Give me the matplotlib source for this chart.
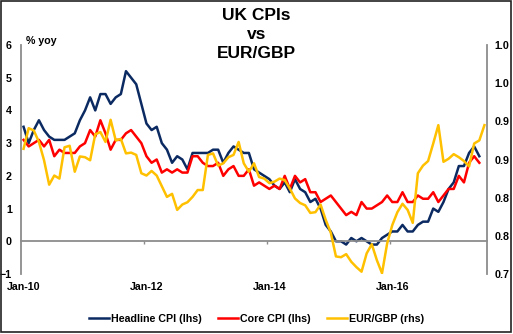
import matplotlib.pyplot as plt
import matplotlib.patches as mpatches
import matplotlib.lines as mlines
import numpy as np

plt.rcParams['font.family'] = ['Liberation Sans', 'DejaVu Sans']
plt.rcParams['font.weight'] = 'bold'

# monthly data, Jan-10 onwards
headline = [3.5, 3.0, 3.4, 3.7, 3.4, 3.2, 3.1, 3.1, 3.1, 3.2, 3.3, 3.7,
            4.0, 4.4, 4.0, 4.5, 4.5, 4.2, 4.4, 4.5, 5.2, 5.0, 4.8, 4.2,
            3.6, 3.4, 3.5, 3.0, 2.8, 2.4, 2.6, 2.5, 2.2, 2.7, 2.7, 2.7,
            2.7, 2.8, 2.8, 2.4, 2.7, 2.9, 2.8, 2.7, 2.7, 2.2, 2.1, 2.0,
            1.9, 1.7, 1.6, 1.8, 1.5, 1.9, 1.6, 1.5, 1.2, 1.3, 1.0, 0.5,
            0.3, 0.0, 0.0, -0.1, 0.1, 0.0, 0.1, 0.0, -0.1, -0.1, 0.1, 0.2,
            0.3, 0.3, 0.5, 0.3, 0.3, 0.5, 0.6, 0.6, 1.0, 0.9, 1.2, 1.6,
            1.8, 2.3, 2.3, 2.7, 2.9, 2.6]

core = [3.1, 2.9, 3.0, 3.1, 2.9, 3.1, 2.6, 2.8, 2.7, 2.7, 2.7, 2.9,
        3.0, 3.4, 3.2, 3.7, 3.3, 2.8, 3.1, 3.1, 3.3, 3.4, 3.2, 3.0,
        2.6, 2.4, 2.5, 2.1, 2.2, 2.1, 2.2, 2.1, 2.1, 2.6, 2.6, 2.4,
        2.3, 2.3, 2.4, 2.0, 2.2, 2.3, 2.0, 2.0, 2.2, 1.7, 1.8, 1.7,
        1.6, 1.7, 1.6, 2.0, 1.6, 2.0, 1.8, 1.9, 1.5, 1.5, 1.2, 1.3,
        1.4, 1.2, 1.0, 0.8, 0.9, 0.8, 1.2, 1.0, 1.0, 1.1, 1.2, 1.4,
        1.2, 1.2, 1.5, 1.2, 1.2, 1.4, 1.3, 1.3, 1.5, 1.2, 1.4, 1.6,
        1.6, 2.0, 1.8, 2.4, 2.6, 2.4]

eurgbp = [0.864, 0.891, 0.888, 0.873, 0.849, 0.817, 0.829, 0.825, 0.866, 0.868, 0.834, 0.854,
          0.853, 0.849, 0.883, 0.886, 0.873, 0.902, 0.875, 0.877, 0.858, 0.859, 0.856, 0.832,
          0.829, 0.835, 0.829, 0.815, 0.801, 0.805, 0.784, 0.791, 0.794, 0.801, 0.810, 0.810,
          0.856, 0.858, 0.842, 0.845, 0.853, 0.856, 0.873, 0.845, 0.834, 0.845, 0.827, 0.825,
          0.819, 0.821, 0.825, 0.823, 0.812, 0.799, 0.793, 0.790, 0.780, 0.781, 0.791, 0.771,
          0.754, 0.723, 0.722, 0.726, 0.716, 0.709, 0.703, 0.727, 0.739, 0.718, 0.701, 0.740,
          0.764, 0.781, 0.792, 0.784, 0.767, 0.832, 0.842, 0.848, 0.871, 0.895, 0.847, 0.851,
          0.857, 0.853, 0.848, 0.841, 0.871, 0.875, 0.895]

xlabels = ['Jan-10', 'Jan-12', 'Jan-14', 'Jan-16']
rticks = [0.70, 0.75, 0.80, 0.85, 0.90, 0.95, 1.00]
rlabels = ['0.7', '0.8', '0.8', '0.9', '0.9', '1.0', '1.0']   # one decimal, rounded half up

navy = '#0b2a62'
red = '#ff0000'
gold = '#ffc000'
grey = '#8c8c8c'
fs = 7.7

fig = plt.figure(figsize=(5.13, 3.34), dpi=100)
ax = fig.add_axes([21 / 513, 1 - 274 / 334, 466 / 513, 229 / 334])

ax.plot(np.arange(len(headline)), headline, color=navy, lw=1.8)
ax.plot(np.arange(len(core)), core, color=red, lw=1.8)
ax.set_xlim(-0.5, 90.5)
ax.set_ylim(-1, 6)
ax.set_yticks(range(-1, 7))
ax.tick_params(axis='y', length=0, pad=6.5, labelsize=fs)

for s in ['top', 'right']:
    ax.spines[s].set_visible(False)
ax.spines['left'].set_color(grey)
ax.spines['left'].set_linewidth(1.3)
ax.spines['bottom'].set_position(('data', 0))
ax.spines['bottom'].set_color(grey)
ax.spines['bottom'].set_linewidth(1.3)
ax.set_xticks([])
ax.set_xticks([23.5, 47.5, 71.5], minor=True)
ax.tick_params(axis='x', which='minor', length=2.5, width=1, color=grey, direction='out')

sec = ax.secondary_xaxis('bottom')
sec.set_xticks([0, 24, 48, 72], labels=xlabels)
sec.tick_params(length=0, pad=6, labelsize=fs)
sec.spines['bottom'].set_visible(False)

ax2 = ax.twinx()
ax2.plot(np.arange(len(eurgbp)), eurgbp, color=gold, lw=1.8)
ax2.set_ylim(0.70, 1.00)
ax2.set_yticks(rticks)
ax2.set_yticklabels(rlabels)
ax2.tick_params(axis='y', length=0, pad=5.5, labelsize=fs)
for s in ['top', 'left', 'bottom']:
    ax2.spines[s].set_visible(False)
ax2.spines['right'].set_color(grey)
ax2.spines['right'].set_linewidth(1.3)

fig.text(0.5, 1 - 8 / 334, 'UK CPIs\nvs\nEUR/GBP', ha='center', va='top',
         fontsize=12.5, fontweight='bold', linespacing=1.32)
fig.text(26 / 513, 1 - 41 / 334, '% yoy', ha='left', va='center', fontsize=fs)

handles = [mlines.Line2D([], [], color=navy, lw=1.8, label='Headline CPI (lhs)'),
           mlines.Line2D([], [], color=red, lw=1.8, label='Core CPI (lhs)'),
           mlines.Line2D([], [], color=gold, lw=1.8, label='EUR/GBP (rhs)')]
fig.legend(handles=handles, loc='center', bbox_to_anchor=(0.5, 1 - 319 / 334), ncol=3,
           frameon=False, fontsize=fs, handlelength=1.87, handletextpad=0.2,
           columnspacing=1.5)

# outer frame
fig.add_artist(mpatches.Rectangle((1 / 513, 2 / 334), 510 / 513, 331 / 334,
                                  transform=fig.transFigure, facecolor='none',
                                  edgecolor='#222222', lw=1.2, zorder=10))

fig.savefig('out.png', dpi=100)
